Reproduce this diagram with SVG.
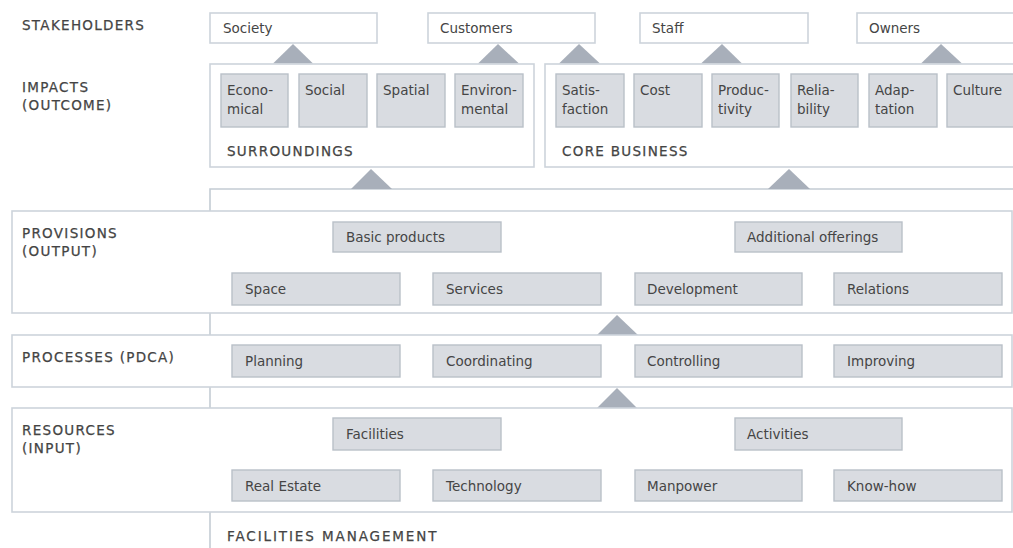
<svg xmlns="http://www.w3.org/2000/svg" width="1013" height="548" viewBox="0 0 1013 548">
  <style>
    .frame { fill: #ffffff; stroke: #cdd4db; stroke-width: 1.6; }
    .cell { fill: #d9dce1; stroke: #b9c0c8; stroke-width: 1.4; }
    .wire { fill: none; stroke: #c4ccd4; stroke-width: 1.6; }
    .tri { fill: #a8afba; }
    .t { font-family: "DejaVu Sans", "Liberation Sans", sans-serif; font-size: 13.5px; fill: #454545; }
    .cap { font-family: "DejaVu Sans", "Liberation Sans", sans-serif; font-size: 13.5px; fill: #444444; stroke: #444444; stroke-width: 0.25; letter-spacing: 1.3px; }
  </style>
  <rect width="1013" height="548" fill="#ffffff"/>

  <!-- row headings -->
  <g id="headings">
    <text class="cap" x="22" y="29.5">STAKEHOLDERS</text>
    <text class="cap" x="22" y="92">IMPACTS</text>
    <text class="cap" x="22" y="110">(OUTCOME)</text>
  </g>

  <!-- connectors: spine, flow lines and triangles -->
  <g id="connectors">
    <path class="wire" d="M210 211 V189 H1013"/>
    <path class="wire" d="M210 313 V335"/>
    <path class="wire" d="M210 387 V408"/>
    <path class="wire" d="M210 512 V548"/>
    <polygon class="tri" points="293,44 313,63.5 273,63.5"/>
    <polygon class="tri" points="498,44 519,63.5 478,63.5"/>
    <polygon class="tri" points="579,44 600,63.5 559,63.5"/>
    <polygon class="tri" points="722,44 742,63.5 701,63.5"/>
    <polygon class="tri" points="941,44 962,63.5 921,63.5"/>
    <polygon class="tri" points="371,169 392,189 351,189"/>
    <polygon class="tri" points="789,169 810,189 768,189"/>
    <polygon class="tri" points="617,315 638,335 597,335"/>
    <polygon class="tri" points="617,388 637,408 597,408"/>
  </g>

  <!-- stakeholders -->
  <g id="society"><rect class="frame" x="210" y="13" width="167" height="30"/><text class="t" x="223" y="33">Society</text></g>
  <g id="customers"><rect class="frame" x="428" y="13" width="167" height="30"/><text class="t" x="440" y="33">Customers</text></g>
  <g id="staff"><rect class="frame" x="640" y="13" width="168" height="30"/><text class="t" x="652" y="33">Staff</text></g>
  <g id="owners"><rect class="frame" x="857" y="13" width="170" height="30"/><text class="t" x="869" y="33">Owners</text></g>

  <!-- impacts: surroundings -->
  <g id="surroundings">
    <rect class="frame" x="210" y="64" width="324" height="103"/>
    <rect class="cell" x="221" y="74" width="67" height="53"/>
    <text class="t" x="227" y="95">Econo-</text><text class="t" x="227" y="113.5">mical</text>
    <rect class="cell" x="299" y="74" width="68" height="53"/>
    <text class="t" x="305" y="95">Social</text>
    <rect class="cell" x="377" y="74" width="68" height="53"/>
    <text class="t" x="383" y="95">Spatial</text>
    <rect class="cell" x="455" y="74" width="68" height="53"/>
    <text class="t" x="461" y="95">Environ-</text><text class="t" x="461" y="113.5">mental</text>
    <text class="cap" x="227" y="156">SURROUNDINGS</text>
  </g>

  <!-- impacts: core business -->
  <g id="core-business">
    <rect class="frame" x="545" y="64" width="480" height="103"/>
    <rect class="cell" x="556" y="74" width="68" height="53"/>
    <text class="t" x="562" y="95">Satis-</text><text class="t" x="562" y="113.5">faction</text>
    <rect class="cell" x="634" y="74" width="68" height="53"/>
    <text class="t" x="640" y="95">Cost</text>
    <rect class="cell" x="712" y="74" width="67" height="53"/>
    <text class="t" x="718" y="95">Produc-</text><text class="t" x="718" y="113.5">tivity</text>
    <rect class="cell" x="791" y="74" width="67" height="53"/>
    <text class="t" x="797" y="95">Relia-</text><text class="t" x="797" y="113.5">bility</text>
    <rect class="cell" x="869" y="74" width="68" height="53"/>
    <text class="t" x="875" y="95">Adap-</text><text class="t" x="875" y="113.5">tation</text>
    <rect class="cell" x="947" y="74" width="70" height="53"/>
    <text class="t" x="953" y="95">Culture</text>
    <text class="cap" x="562" y="156">CORE BUSINESS</text>
  </g>

  <!-- provisions -->
  <g id="provisions">
    <rect class="frame" x="12" y="211" width="1000" height="102"/>
    <text class="cap" x="22" y="238">PROVISIONS</text>
    <text class="cap" x="22" y="256">(OUTPUT)</text>
    <rect class="cell" x="333" y="222" width="168" height="30"/><text class="t" x="346" y="242">Basic products</text>
    <rect class="cell" x="735" y="222" width="167" height="30"/><text class="t" x="747" y="242">Additional offerings</text>
    <rect class="cell" x="232" y="273" width="168" height="32"/><text class="t" x="245" y="294">Space</text>
    <rect class="cell" x="433" y="273" width="168" height="32"/><text class="t" x="446" y="294">Services</text>
    <rect class="cell" x="635" y="273" width="167" height="32"/><text class="t" x="647" y="294">Development</text>
    <rect class="cell" x="834" y="273" width="168" height="32"/><text class="t" x="847" y="294">Relations</text>
  </g>

  <!-- processes -->
  <g id="processes">
    <rect class="frame" x="12" y="335" width="1000" height="52"/>
    <text class="cap" x="22" y="362">PROCESSES (PDCA)</text>
    <rect class="cell" x="232" y="345" width="168" height="32"/><text class="t" x="245" y="366">Planning</text>
    <rect class="cell" x="433" y="345" width="168" height="32"/><text class="t" x="446" y="366">Coordinating</text>
    <rect class="cell" x="635" y="345" width="167" height="32"/><text class="t" x="647" y="366">Controlling</text>
    <rect class="cell" x="834" y="345" width="168" height="32"/><text class="t" x="847" y="366">Improving</text>
  </g>

  <!-- resources -->
  <g id="resources">
    <rect class="frame" x="12" y="408" width="1000" height="104"/>
    <text class="cap" x="22" y="435">RESOURCES</text>
    <text class="cap" x="22" y="453">(INPUT)</text>
    <rect class="cell" x="333" y="418" width="168" height="32"/><text class="t" x="346" y="439">Facilities</text>
    <rect class="cell" x="735" y="418" width="167" height="32"/><text class="t" x="747" y="439">Activities</text>
    <rect class="cell" x="232" y="470" width="168" height="31"/><text class="t" x="245" y="490.5">Real Estate</text>
    <rect class="cell" x="433" y="470" width="168" height="31"/><text class="t" x="446" y="490.5">Technology</text>
    <rect class="cell" x="635" y="470" width="167" height="31"/><text class="t" x="647" y="490.5">Manpower</text>
    <rect class="cell" x="834" y="470" width="168" height="31"/><text class="t" x="847" y="490.5">Know-how</text>
  </g>

  <g id="footer">
    <text class="cap" x="227" y="541" style="letter-spacing:1.9px">FACILITIES MANAGEMENT</text>
  </g>
</svg>
